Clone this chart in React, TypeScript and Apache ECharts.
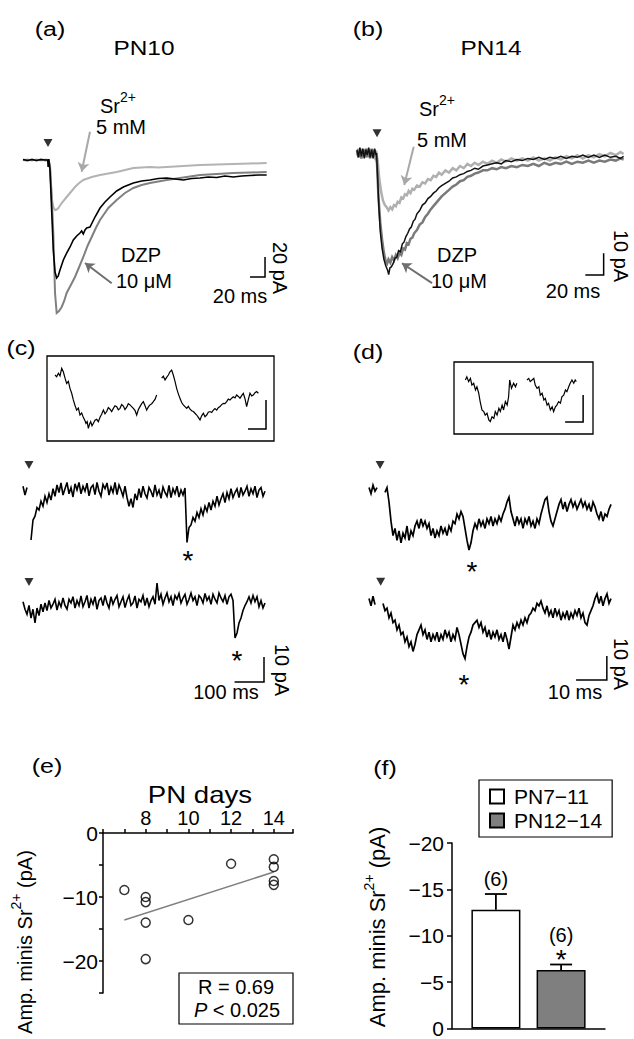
import React, { useEffect, useRef } from "react";
import * as echarts from "echarts";

const FONT = '"Liberation Sans", Arial, Helvetica, sans-serif';

// ---------------- (a) PN10 evoked IPSCs: [time ms, current pA] ----------------
const A_SR: number[][] = [[4,0],[10,0.5],[16,-0.5],[22,0.5],[28,-0.5],[34,0.5],[37,0],[40,-4],[42.2,-38],[44.4,-47],[46.7,-50],[49,-49.5],[51.1,-48],[55.6,-43],[62.2,-37],[67.8,-32],[73.3,-27],[78.9,-23],[84.4,-20],[95.6,-17],[106.7,-15],[117.8,-13.5],[128.9,-12],[140,-10],[151.1,-8],[162.2,-7.5],[173.3,-7],[184.4,-7.5],[195.6,-7],[217.8,-6],[240,-5],[262.2,-4.5],[284.4,-4],[306.7,-3.5],[328.9,-3]];
const A_DZP: number[][] = [[4,0],[10,-0.5],[16,0.5],[22,-0.5],[28,0.5],[34,-0.5],[37,0],[40,-8],[42.2,-35],[44.4,-73],[46.7,-133],[48.9,-153],[52,-151],[55.6,-147],[58.9,-141],[62.2,-133],[67.8,-125],[73.3,-117],[78.9,-107],[84.4,-97],[90,-86],[95.6,-77],[101.1,-68],[106.7,-60],[112.2,-54],[117.8,-48],[123.3,-44],[128.9,-40],[140,-33],[151.1,-28],[162.2,-25],[173.3,-23],[184.4,-21.5],[195.6,-20],[217.8,-17.5],[240,-15],[262.2,-14],[284.4,-13],[306.7,-12.5],[328.9,-12]];
const A_CTL: number[][] = [[4,0.5],[10,-0.5],[16,0.5],[22,-0.5],[28,0.5],[34,0],[37,0],[37.5,-7],[38.5,1],[40,-10],[42.2,-50],[44.4,-90],[46.7,-112],[48.9,-118],[51,-116],[53.3,-110],[57.8,-100],[62.2,-93],[66.7,-87],[71.1,-80],[75.6,-76],[80,-73],[82.2,-71],[84.4,-74],[86.7,-70],[88.9,-68],[93.3,-67],[96.7,-62],[100,-57],[106.7,-48],[113.3,-42],[120,-37],[128.9,-31],[137.8,-27],[144.4,-25],[151.1,-23],[162.2,-21],[173.3,-20],[184.4,-18.5],[195.6,-18],[206.7,-19],[217.8,-20],[228.9,-18.5],[240,-18],[251.1,-17],[262.2,-17.5],[273.3,-16],[284.4,-17],[295.6,-16],[306.7,-15.5],[317.8,-15],[328.9,-15]];

// ---------------- (b) PN14 evoked IPSCs ----------------
const B_SR: number[][] = [[7.6,-1],[9.2,2],[10.8,-1.5],[12.4,2],[14,-2],[15.6,1.5],[17.2,-2],[18.8,2],[20.4,-1],[22,1.5],[23.6,-2],[25.2,1],[26.8,-1.5],[28.4,1],[30,-3],[32,-12],[34,-18],[36,-22],[38,-24],[40,-25],[42,-26.5],[44,-25],[46,-26],[48,-24],[50,-24.5],[52,-22.5],[54,-23],[56,-20.5],[58,-21],[60,-19],[62,-19.5],[64,-17.5],[66,-18.5],[68,-16.5],[70,-17],[73,-15],[76,-15.5],[79,-13.5],[82,-14],[85,-12],[88,-12.5],[91,-10.5],[94,-11],[97,-9],[100,-10],[104,-8],[108,-9],[112,-7],[116,-8],[120,-6],[124,-7],[128,-5],[132,-6],[136,-4.5],[140,-5.5],[145,-4],[150,-5],[155,-3.5],[160,-4.5],[165,-3],[170,-4],[176,-2.5],[182,-3.5],[188,-2.5],[194,-3.5],[200,-2],[206,-3.5],[212,-2.5],[218,-3.5],[224,-2],[230,-3],[236,-1.5],[242,-2.5],[248,-1],[254,-2.5],[260,-1],[266,-2],[272,-0.5],[278,-1.5],[284,0],[290,-1],[295,0.5],[298.5,-0.5]];
const B_DZP: number[][] = [[7.6,1],[9.2,-2],[10.8,1.5],[12.4,-2.5],[14,1.5],[15.6,-1.5],[17.2,2],[18.8,-2],[20.4,1.5],[22,-2.5],[23.6,2],[25.2,-1.5],[26.8,1.5],[28.4,-2],[29.5,-5],[31,-20],[33,-32],[35,-40],[37,-46],[39,-50],[40.5,-51],[42,-49],[44,-50.5],[46,-48],[48,-49.5],[50,-47],[52,-48.5],[54,-46],[56,-47],[58,-44],[60,-44.5],[62,-41.5],[64,-42],[66,-39.5],[68,-39],[70,-37],[73,-35.5],[76,-33],[79,-32],[82,-29.5],[85,-28],[88,-26],[91,-24.5],[94,-23],[97,-21.5],[100,-20],[104,-18.5],[108,-17],[112,-15.5],[116,-14.5],[120,-13],[124,-12.5],[128,-11],[132,-10.5],[136,-9.5],[140,-9],[145,-8],[150,-8],[155,-7],[160,-7.5],[165,-6.5],[170,-7],[176,-6],[182,-6.5],[188,-5.5],[194,-6],[200,-5],[206,-6],[212,-4.5],[218,-5.5],[224,-4.5],[230,-5],[236,-4],[242,-5],[248,-4],[254,-4.5],[260,-3.5],[266,-4.5],[272,-3.5],[278,-4],[284,-3],[290,-3.5],[295,-2.5],[298.5,-3]];
const B_CTL: number[][] = [[7.6,1.5],[9.2,-2],[10.8,2.5],[12.4,-1.5],[14,2],[15.6,-2.5],[17.2,1.5],[18.8,-1],[20.4,2.5],[22,-2],[23.6,1.5],[25.2,-2.5],[26.8,2],[28.4,-1],[29,0],[30,-10],[31.5,-25],[33,-36],[35,-44],[37,-49],[39,-52],[41,-54],[42.2,-56],[43.5,-53],[45,-52.5],[47,-51],[49,-48.5],[51,-48],[53,-45],[55,-45.5],[57,-42],[59,-41],[61,-38.5],[63,-37],[65,-35],[67,-34],[69,-31.5],[71,-30.5],[73,-28],[76,-26.5],[79,-24],[82,-23],[85,-21],[88,-20],[91,-18.5],[94,-17.5],[97,-16],[100,-15],[104,-14],[108,-13],[112,-11.5],[116,-11],[120,-10],[124,-9.5],[128,-8.5],[132,-8],[136,-7],[140,-7.5],[145,-6],[150,-5.5],[155,-5],[160,-4.5],[165,-5],[170,-3.5],[176,-4],[182,-3],[188,-3.5],[194,-2.5],[200,-3],[206,-2],[212,-3],[218,-2],[224,-2.5],[230,-1.5],[236,-2.5],[242,-1.5],[248,-2],[254,-1],[260,-2],[266,-1],[272,-2],[278,-1],[284,-2],[290,-1.5],[295,-2.5],[298.5,-1.5]];

// ---------------- (c) PN10 Sr2+ sweeps, sampled every C_DT ms (pA) ----------------
const C_DT = 6.8;
const C_TRACE1: (number | null)[] = [
  1.5,-2,1,null,
  -20,-12,-10.5,-7,-8,-4.5,-6.5,-2.5,-5,-1.5,-4,
  0.5,-2.5,2,-1,2.8,-2,0.5,3,-1.5,1,-2.8,2.5,0,3,-1.5,1.5,-0.5,2.7,-2.3,1,2,-1.8,3,-0.5,-2.5,2.2,0.5,2.8,-2,1.2,-1,3,-1.8,2,0,-2.5,1.5,
  -3,-6.5,-3.5,-7,-1.5,-4,
  0.5,-3,1.5,-1.5,-3.2,1,-0.5,-2.8,2,-2,0,-3.3,1.2,-1,-2.5,1.8,-3,0.5,-1.5,1.5,-2.8,0,-2,0.8,
  -21,-15,-14,-11,-12.5,-9,-11,-7.5,-10,-6.5,-8.5,-5,-8,-4.5,-6.5,-2.5,-6,-3.5,-1.5,-5,
  -1,-3.5,0.5,-3,-1,0.5,-3,1,-2,-0.5,1.5,-2.5,0.5,-1.5,1.5,-3,0,1,-2.5,-0.5,
];
const C_TRACE2: (number | null)[] = [
  0.5,-2.5,-4.5,-1,-6,-2.5,-8,-2,-5,-0.5,-3.5,
  0,-3,1,-2,-0.5,1.5,-2.8,0.5,-1.5,2,-1,-2.5,1.5,0,2.5,-2,1,-1,2.8,-1.5,0.5,3,-2,1.5,-0.5,2.5,-2.5,1,2,-1,3,0,-2,2.5,-0.5,1.5,3,-1.5,0.5,2.5,-1.8,1,3,-1,0,2.8,-2,1.5,0.5,3,-1,2,-1.5,1,2.5,-0.5,
  8,
  1,3.5,-0.5,2,4,0.5,2.5,-1,3,1.5,3.8,0,2,3.5,-0.5,1.5,4,1,2.5,-1,3,2,0,3.8,1,2.5,-0.5,3.5,1.5,0,4,2,0.5,3,-0.5,2.5,3.5,1,
  -14,-12,-8,-6,-3,-1,0.5,2.5,0,3,0.5,2.5,-1.5,1,-2,0,
];
const C_INSET1: number[][] = [[5.6,0],[7.4,-0.6],[9.3,0.6],[11.1,-0.3],[13,2.3],[14.8,1.1],[16.7,-1.1],[18.5,-2.9],[20.4,-2.2],[22.2,-4.6],[24.1,-6.3],[25.9,-8.6],[27.8,-10.5],[29.6,-12.1],[31.5,-11.4],[33.3,-13.8],[35.2,-13.1],[37,-14.6],[38.9,-15.8],[40,-16.7],[41.3,-16.1],[42.6,-18.4],[44,-16.9],[45.2,-16.1],[46.7,-17.5],[48.1,-16.7],[50,-15.6],[51.9,-15.3],[53.7,-16.1],[55.6,-14.6],[57.4,-13.5],[59.3,-12.1],[61.1,-13.4],[63,-12.6],[64.8,-11.2],[66.7,-11.8],[68.5,-12.6],[70.4,-11.5],[72.2,-10.6],[74.1,-10.9],[75.9,-12],[77.8,-11.5],[79.6,-10.2],[81.5,-10.7],[83.3,-11.9],[85.2,-11.1],[87,-9.9],[88.9,-10.3],[90.7,-10.9],[92.6,-11.5],[94.4,-12.2],[96.3,-13.8],[98.1,-12],[100,-10.9],[101.9,-9.9],[103.7,-9.2],[105.6,-10.6],[107.4,-12.1],[109.3,-11],[111.1,-10.3],[113,-9.9],[114.8,-9.2],[116.7,-8.4],[118.5,-6.9]];
const C_INSET2: number[][] = [[124.1,-1.1],[125.9,-0.4],[127.8,-1.7],[129.6,-0.8],[131.5,0],[133.3,1.1],[135.2,1.7],[137,0],[138.9,-2.2],[140.7,-4.6],[142.6,-6.5],[144.4,-8],[146.3,-9.5],[148.1,-10.3],[150,-10.9],[151.9,-11.5],[153.7,-10.8],[155.6,-11.8],[157.4,-12.3],[159.3,-12.6],[161.1,-13.2],[163,-13.8],[164.8,-14.6],[166.7,-15.5],[168.5,-14.1],[170.4,-13.2],[172.2,-14.4],[174.1,-13.8],[175.9,-12.8],[177.8,-12.6],[179.6,-12.9],[181.5,-12.1],[183.3,-11.6],[185.2,-12.1],[187,-11.3],[188.9,-10.9],[190.7,-10.2],[192.6,-9.8],[194.4,-9.9],[196.3,-9.2],[198.1,-8.3],[200,-8.6],[201.9,-8],[203.7,-7.5],[205.6,-7.9],[207.4,-6.9],[209.3,-7.4],[211.1,-8],[213,-7.1],[214.8,-6.3],[216.7,-8.2],[218.5,-10.9],[220.4,-8.4],[222.2,-6.3],[224.1,-7.2],[225.9,-6.9],[227.8,-6.1],[229.6,-5.7],[231.5,-6.3]];

// ---------------- (d) PN14 Sr2+ sweeps, sampled every D_DT ms (pA) ----------------
const D_DT = 0.65;
const D_TRACE1: (number | null)[] = [1,-1.5,2,-0.5,1,null,null,null,-1,1,-5,-13,-19,-16,-21,-17,-22,-18,-20,-15,-21,-17,-19,-15,-13,-16,-12,-15,-13,-16,-14,-19,-16,-20,-17,-19,-15,-18,-16,-19,-15,-17,-13,-14,-10,-12,-9,-11,-16,-21,-25,-22,-17,-14,-16,-12,-15,-13,-16,-12,-14,-11,-15,-12,-14,-11,-13,-10,-8,-5,-3,-9,-12,-15,-11,-14,-12,-16,-12,-14,-11,-15,-13,-16,-12,-14,-10,-7,-4,-3,-9,-13,-15,-12,-9,-6,-4,-8,-5,-9,-6,-4,-7,-5,-8,-6,-4,-7,-5,-8,-6,-9,-5,-7,-10,-12,-9,-13,-10,-11,-8,-6];
const D_TRACE2: (number | null)[] = [1,-2,2,-1.5,null,null,null,-1,-4,-3,-7,-5,-9,-8,-12,-10,-14,-13,-17,-15,-19,-17,-21,-18,-14,-12,-10,-14,-12,-16,-13,-17,-14,-16,-13,-17,-14,-16,-12,-15,-13,-17,-14,-16,-11,-14,-18,-22,-24,-19,-15,-13,-10,-9,-8,-11,-9,-13,-11,-15,-12,-16,-13,-15,-12,-16,-14,-17,-13,-16,-20,-15,-10,-12,-9,-11,-8,-10,-7,-9,-6,-5,-3,-4,-1,-2,0,-3,-5,-2,-6,-4,-7,-3,-6,-4,-8,-5,-7,-4,-8,-5,-7,-4,-6,-3,-7,-5,-9,-10,-6,-4,-2,1,3,-1,2,-2,1,3,-1,1];
const D_INSET1: number[][] = [[1.5,0],[1.9,1.2],[2.4,-0.6],[2.9,0.6],[3.3,-1.9],[3.8,-1.2],[4.3,-3.7],[4.7,-2.5],[5.2,-4.9],[5.6,-8],[6.1,-11.1],[6.6,-11.7],[7,-13],[7.5,-12.3],[8,-14.8],[8.4,-15.4],[8.9,-13.6],[9.4,-14.2],[9.8,-11.7],[10.3,-13],[10.8,-10.5],[11.2,-11.7],[11.7,-9.3],[12.1,-11.1],[12.6,-8],[13.1,-9.3],[13.5,-6.2],[13.8,0],[14.3,-3.1],[14.9,-1.2],[15.4,-2.5],[15.8,-1.2]];
const D_INSET2: number[][] = [[18.6,0],[19.1,0.6],[19.5,-0.6],[20,0],[20.5,0.6],[20.9,-1.9],[21.4,-3.1],[21.9,-2.5],[22.3,-5.6],[22.8,-4.9],[23.3,-7.4],[23.7,-6.8],[24.2,-9.3],[24.6,-8.6],[25.1,-11.1],[25.6,-9.9],[26,-11.7],[26.5,-9.9],[26.9,-9.3],[27.4,-8],[27.9,-8.6],[28.3,-6.2],[28.8,-5.6],[29.3,-3.7],[29.7,-4.3],[30.2,-2.5],[30.6,-1.2],[31.1,0],[31.6,-1.2],[32,0],[32.3,-0.6]];

// ---------------- (e) amplitude of Sr2+ minis vs PN day ----------------
const E_DAYS = [7, 8, 8, 8, 8, 10, 12, 14, 14, 14, 14];
const E_AMP = [-8.9, -10, -10.8, -14, -19.7, -13.6, -4.8, -4.1, -5.3, -7.5, -8.1];
const E_FIT: number[][] = [[7, -13.6], [14, -6.1]];
const E_X_LABELS = [8, 10, 12, 14];
const E_Y_LABELS = [0, -10, -20];

// ---------------- (f) grouped means ----------------
const F_GROUPS = ["PN7\u221211", "PN12\u221214"];
const F_MEAN = [-12.8, -6.3];
const F_SEM = [1.7, 0.6];
const F_N = ["(6)", "(6)"];
const F_SIG = ["", "*"];
const F_COLORS = ["#ffffff", "#7f7f7f"];

// ---------------- layout of the trace panels (pixel frames and scales) ----------------
type Spec = { rect: number[]; x0: number; y0: number; sx: number; sy: number; border?: boolean };
const SPECS: Spec[] = [
  { rect: [15, 100, 262, 225], x0: 20, y0: 160, sx: 0.75, sy: 1.0 },
  { rect: [345, 100, 285, 200], x0: 350, y0: 153, sx: 0.9167, sy: 2.17 },
  { rect: [47, 356, 227, 85], x0: 50, y0: 375, sx: 0.9, sy: 2.9, border: true },
  { rect: [15, 452, 262, 118], x0: 23, y0: 490, sx: 2 / C_DT, sy: 2.5 },
  { rect: [15, 570, 262, 130], x0: 23, y0: 603, sx: 2 / C_DT, sy: 2.5 },
  { rect: [454, 362, 139, 72], x0: 460, y0: 380, sx: 3.6, sy: 2.7, border: true },
  { rect: [360, 452, 265, 118], x0: 369, y0: 490, sx: 2 / D_DT, sy: 2.4 },
  { rect: [360, 570, 265, 130], x0: 369, y0: 601, sx: 2 / D_DT, sy: 2.4 },
];

const sampled = (vals: (number | null)[], dt: number) =>
  vals.map((v, i) => [i * dt, v === null ? "-" : v]);

function line(gi: number, data: any[], color: string, width: number, extra: any = {}) {
  return {
    type: "line", xAxisIndex: gi, yAxisIndex: gi, data, symbol: "none", showSymbol: false,
    lineStyle: { color, width, cap: "butt", join: "miter" }, itemStyle: { color }, silent: true, connectNulls: false,
    ...extra,
  };
}
function scaleBar(gi: number, t: number, v: number, lt: number, lv: number) {
  return line(gi, [[t - lt, v], [t, v], [t, v + lv]], "#000", 1.5);
}
function arrow(from: number[], to: number[], color: string) {
  return {
    silent: true, symbol: ["none", "arrow"], symbolSize: 9, label: { show: false },
    lineStyle: { color, width: 2, type: "solid" }, emphasis: { disabled: true },
    data: [[{ coord: from }, { coord: to }]],
  };
}
function stim(gi: number, t: number, v: number) {
  return {
    type: "scatter", xAxisIndex: gi, yAxisIndex: gi, data: [[t, v]], symbol: "triangle", symbolRotate: 180,
    symbolSize: [9, 8], itemStyle: { color: "#000" }, silent: true, z: 5,
  };
}
const CENTER = { align: "center", verticalAlign: "middle", textAlign: "center", textVerticalAlign: "middle" };
function star(gi: number, t: number, v: number) {
  return {
    type: "custom", xAxisIndex: gi, yAxisIndex: gi, data: [[t, v]], silent: true, z: 5,
    renderItem: (_p: any, api: any) => {
      const p = api.coord([api.value(0), api.value(1)]);
      return { type: "text", x: p[0], y: p[1] + 7, style: { text: "*", fontSize: 28, fontFamily: FONT, fill: "#000", ...CENTER } };
    },
  };
}
function txt(x: number, y: number, text: string, size = 20, extra: any = {}, rot = 0, scaleX = 1) {
  return {
    type: "text", x, y, rotation: rot, scaleX, silent: true, z: 20,
    style: { text, fontSize: size, fontFamily: FONT, fill: "#000", ...CENTER, ...extra },
  };
}
const SUP_RICH = (size: number) => ({
  n: { fontSize: size, fontFamily: FONT, fill: "#000", color: "#000", lineHeight: 26, verticalAlign: "bottom" },
  s: { fontSize: 14, fontFamily: FONT, fill: "#000", color: "#000", verticalAlign: "top" },
});
function srLabel(x: number, y: number) {
  return txt(x, y - 3, "{n|Sr}{s|2+}", 20, { rich: SUP_RICH(20), align: "left", textAlign: "left" });
}
function yTitle(x: number, y: number, size: number) {
  return txt(x - 3, y, "{n|Amp. minis Sr}{s|2+}{n| (pA)}", size, { rich: SUP_RICH(size) }, Math.PI / 2);
}

function buildOption() {
  const grids: any[] = [];
  const xAxes: any[] = [];
  const yAxes: any[] = [];
  SPECS.forEach((s, i) => {
    const [l, t, w, h] = s.rect;
    grids.push({ left: l, top: t, width: w, height: h, show: !!s.border, borderColor: "#000", borderWidth: 1.3, backgroundColor: "transparent" });
    xAxes.push({ type: "value", gridIndex: i, min: (l - s.x0) / s.sx, max: (l + w - s.x0) / s.sx, show: false });
    yAxes.push({ type: "value", gridIndex: i, min: (s.y0 - (t + h)) / s.sy, max: (s.y0 - t) / s.sy, show: false });
  });

  const axisLine = { show: true, onZero: false, lineStyle: { color: "#000", width: 1.5 } };
  const tick = (len: number) => ({ show: true, length: len, lineStyle: { color: "#000", width: 1.5 } });
  const lab = { color: "#000", fontSize: 20, fontFamily: FONT };
  const minus = (v: number) => (v === 0 ? "0" : "\u2212" + Math.abs(v));

  // (e)
  grids.push({ left: 103, top: 833, width: 190, height: 160 });
  xAxes.push({
    type: "value", gridIndex: 8, position: "top", min: 6, max: 14.9, interval: 1,
    axisLine, axisTick: tick(4), splitLine: { show: false },
    axisLabel: { ...lab, margin: 5, formatter: (v: number) => (E_X_LABELS.includes(v) ? String(v) : "") },
  });
  yAxes.push({
    type: "value", gridIndex: 8, min: -25, max: 0, interval: 5,
    axisLine, axisTick: tick(4), splitLine: { show: false },
    axisLabel: { ...lab, fontSize: 21, margin: 5, formatter: (v: number) => (E_Y_LABELS.includes(v) ? minus(v) : "") },
  });
  // (f)
  grids.push({ left: 452, top: 843, width: 153, height: 186 });
  xAxes.push({
    type: "category", gridIndex: 9, data: ["PN"], position: "bottom",
    axisLine, axisTick: { show: false }, axisLabel: { show: false }, splitLine: { show: false },
  });
  yAxes.push({
    type: "value", gridIndex: 9, min: -20, max: 0, interval: 5, inverse: true,
    axisLine, axisTick: tick(5), splitLine: { show: false },
    axisLabel: { ...lab, fontSize: 21, margin: 8, formatter: minus },
  });

  const series: any[] = [
    // (a)
    line(0, A_SR, "#b3b3b3", 2, { markLine: arrow([93.3, 28.3], [82.2, -11.7], "#a8a8a8") }),
    line(0, A_DZP, "#808080", 2, { markLine: arrow([122.2, -123.3], [86.7, -103], "#6f6f6f") }),
    line(0, A_CTL, "#000000", 1.6),
    scaleBar(0, 326.7, -117, 20, 20),
    stim(0, 37.3, 17),
    // (b)
    line(1, B_SR, "#b0b0b0", 2.5, { markLine: arrow([69.5, 2.9], [59.2, -14.7], "#a8a8a8") }),
    line(1, B_DZP, "#7a7a7a", 2.5, { markLine: arrow([89.5, -60], [56.7, -50.8], "#6f6f6f") }),
    line(1, B_CTL, "#111111", 1.5),
    scaleBar(1, 276.7, -56.2, 20, 10),
    stim(1, 29.5, 9.1),
    // (c)
    line(2, C_INSET1, "#000", 1.2),
    line(2, C_INSET2, "#000", 1.2),
    scaleBar(2, 240, -18.6, 20, 10),
    line(3, sampled(C_TRACE1, C_DT), "#000", 1.6),
    stim(3, 20.4, 10),
    star(3, 561, -25.2),
    line(4, sampled(C_TRACE2, C_DT), "#000", 1.6),
    stim(4, 20.4, 8.4),
    star(4, 727.6, -20),
    scaleBar(4, 819.4, -31.6, 100, 10),
    // (d)
    line(5, D_INSET1, "#000", 1.2),
    line(5, D_INSET2, "#000", 1.2),
    scaleBar(5, 34.2, -15.6, 5, 10),
    line(6, sampled(D_TRACE1, D_DT), "#000", 1.7),
    stim(6, 3.6, 10.4),
    star(6, 33.5, -31.2),
    line(7, sampled(D_TRACE2, D_DT), "#000", 1.7),
    stim(7, 3.8, 8),
    star(7, 30.9, -31.7),
    scaleBar(7, 77.3, -32.9, 10, 10),
    // (e)
    line(8, E_FIT, "#808080", 1.5),
    {
      type: "scatter", xAxisIndex: 8, yAxisIndex: 8, silent: true, z: 4,
      data: E_DAYS.map((d, i) => [d, E_AMP[i]]), symbol: "circle", symbolSize: 9,
      itemStyle: { color: "rgba(0,0,0,0)", borderColor: "#000", borderWidth: 1.5 },
    },
  ];
  // (f)
  F_GROUPS.forEach((g, i) => {
    series.push({
      type: "bar", name: g, xAxisIndex: 9, yAxisIndex: 9, data: [F_MEAN[i]], barWidth: 49, barGap: "33%",
      itemStyle: { color: F_COLORS[i], borderColor: "#000", borderWidth: 1.5 }, silent: true,
    });
  });
  series.push({
    type: "custom", xAxisIndex: 9, yAxisIndex: 9, silent: true, z: 6,
    data: F_MEAN.map((m, i) => [0, m, F_SEM[i]]),
    renderItem: (params: any, api: any) => {
      const i = params.dataIndex;
      const base = api.coord([0, api.value(1)]);
      const cx = base[0] + (i === 0 ? -32.6 : 32.6);
      const yTop = base[1];
      const yErr = api.coord([0, api.value(1) - api.value(2)])[1];
      const ls = { stroke: "#000", lineWidth: 1.8 };
      const children: any[] = [
        { type: "line", shape: { x1: cx, y1: yTop, x2: cx, y2: yErr }, style: ls },
        { type: "line", shape: { x1: cx - 11, y1: yErr, x2: cx + 11, y2: yErr }, style: ls },
      ];
      const hasSig = F_SIG[i] !== "";
      if (hasSig) {
        children.push({ type: "text", x: cx, y: yErr - 5, style: { text: F_SIG[i], fontSize: 28, fontFamily: FONT, fill: "#000", ...CENTER } });
      }
      children.push({ type: "text", x: cx, y: yErr - (hasSig ? 30 : 15), style: { text: F_N[i], fontSize: 20, fontFamily: FONT, fill: "#000", ...CENTER } });
      return { type: "group", children };
    },
  });

  const graphic: any[] = [
    txt(50, 29, "(a)", 20, {}, 0, 1.25), txt(144, 48, "PN10", 20, {}, 0, 1.22),
    txt(368, 29, "(b)", 20, {}, 0, 1.25), txt(491, 48, "PN14", 20, {}, 0, 1.22),
    srLabel(100, 106), txt(121, 127, "5 mM"),
    txt(141, 255, "DZP"), txt(144, 281, "10 \u03bcM"),
    txt(280, 268, "20 pA", 20, {}, -Math.PI / 2), txt(240, 296, "20 ms"),
    srLabel(419, 109), txt(442, 140, "5 mM"),
    txt(457, 255, "DZP"), txt(459, 281, "10 \u03bcM"),
    txt(621, 256, "10 pA", 20, {}, -Math.PI / 2), txt(573, 291, "20 ms"),
    txt(21, 348, "(c)", 20, {}, 0, 1.25), txt(368, 352, "(d)", 20, {}, 0, 1.25),
    txt(282, 670, "10 pA", 20, {}, -Math.PI / 2), txt(226, 692, "100 ms"),
    txt(621, 664, "10 pA", 20, {}, -Math.PI / 2), txt(575, 692, "10 ms"),
    txt(47, 766, "(e)", 20, {}, 0, 1.25), txt(385, 768, "(f)", 20, {}, 0, 1.25),
    txt(200, 795, "PN days", 23, {}, 0, 1.2),
    yTitle(25, 942, 20), yTitle(378, 927, 22),
    { type: "rect", silent: true, z: 15, shape: { x: 179, y: 973, width: 114, height: 51 }, style: { fill: "#fff", stroke: "#000", lineWidth: 1.2 } },
    txt(236, 987, "R = 0.69"),
    txt(237, 1010, "{i|P} < 0.025", 20, { rich: { i: { fontStyle: "italic", fontSize: 20, fontFamily: FONT, fill: "#000", color: "#000" } } }),
  ];

  return {
    animation: false,
    backgroundColor: "#ffffff",
    textStyle: { fontFamily: FONT },
    grid: grids,
    xAxis: xAxes,
    yAxis: yAxes,
    legend: {
      data: F_GROUPS, orient: "vertical", left: 479, top: 780, padding: [6, 10, 6, 10], itemGap: 3,
      itemWidth: 14, itemHeight: 14, icon: "rect", borderColor: "#000", borderWidth: 1.2, selectedMode: false,
      textStyle: { color: "#000", fontSize: 21, fontFamily: FONT, padding: [0, 0, 0, 5] },
    },
    series,
    graphic,
  };
}

export default function App() {
  const ref = useRef<HTMLDivElement>(null);
  useEffect(() => {
    if (!ref.current) return;
    const chart = echarts.init(ref.current, undefined, { renderer: "svg" });
    chart.setOption(buildOption() as any);
    return () => chart.dispose();
  }, []);
  return (
    <div
      ref={ref}
      style={{ position: "absolute", left: 0, top: 0, width: 634, height: 1039, background: "#fff" }}
    />
  );
}
